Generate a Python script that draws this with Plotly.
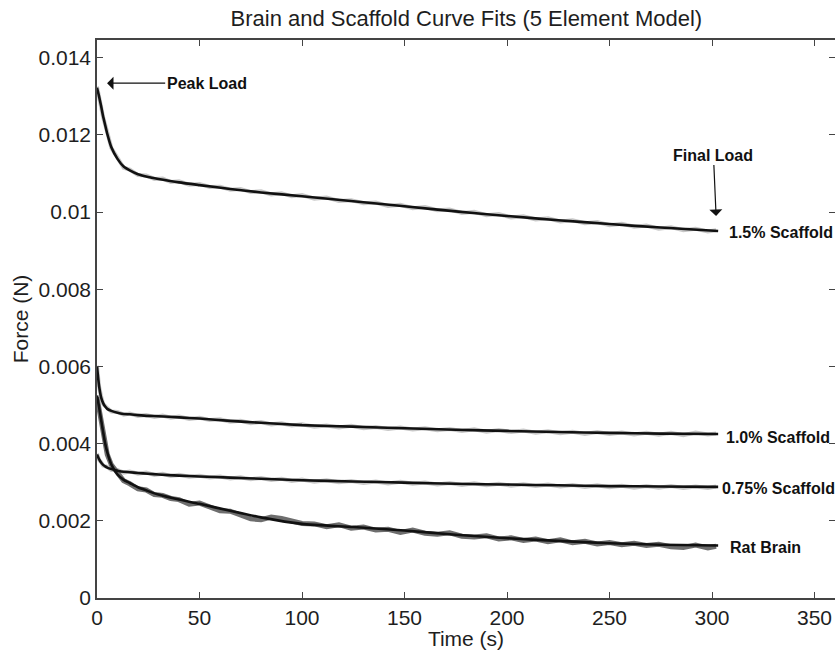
import plotly.graph_objects as go

# ---------------- data ----------------
t_fit = [0, 1, 2, 3, 4, 5, 7, 10, 13, 16, 20, 25, 30, 40, 50, 65, 80, 100,
         125, 150, 175, 200, 225, 250, 275, 303]

fit_15 = [0.01322, 0.01300, 0.01275, 0.01248, 0.01225, 0.01203, 0.01168, 0.01138,
          0.01118, 0.01108, 0.01098, 0.01091, 0.01086, 0.01077, 0.01070, 0.01060,
          0.01051, 0.01041, 0.01028, 0.01015, 0.01002, 0.00990, 0.00979, 0.00969,
          0.00960, 0.00951]
fit_10 = [0.00600, 0.00550, 0.00520, 0.00505, 0.00496, 0.00490, 0.00485, 0.00480,
          0.00477, 0.00476, 0.00474, 0.00472, 0.00471, 0.00468, 0.00465, 0.00459,
          0.00454, 0.00448, 0.00444, 0.00440, 0.00436, 0.00433, 0.00430, 0.00428,
          0.00426, 0.00425]
fit_075 = [0.00372, 0.00360, 0.00351, 0.00345, 0.00341, 0.00338, 0.00334, 0.00330,
           0.00327, 0.00326, 0.00324, 0.00322, 0.00320, 0.00317, 0.00315, 0.00312,
           0.00309, 0.00305, 0.00302, 0.00299, 0.00296, 0.00294, 0.00292, 0.00290,
           0.00289, 0.00288]
fit_brain = [0.00525, 0.00495, 0.00462, 0.00430, 0.00400, 0.00378, 0.00346, 0.00320,
             0.00306, 0.00298, 0.00287, 0.00277, 0.00268, 0.00255, 0.00244, 0.00226,
             0.00209, 0.00192, 0.00184, 0.00175, 0.00164, 0.00155, 0.00148, 0.00142,
             0.00138, 0.00136]

t_data = [0, 1, 2, 3, 5, 7, 10, 13, 16, 20, 24, 28, 32, 36, 40, 45, 50, 55, 60, 65,
          70, 75, 80, 85, 90, 95, 100, 106, 112, 118, 124, 130, 136, 142, 148, 154,
          160, 166, 172, 178, 184, 190, 196, 202, 208, 214, 220, 226, 232, 238, 244,
          250, 256, 262, 268, 274, 280, 286, 292, 298, 302]

data_15 = [0.01325, 0.01298, 0.01279, 0.01246, 0.01207, 0.01166, 0.01141, 0.01115,
           0.01110, 0.01096, 0.01095, 0.01086, 0.01087, 0.01078, 0.01080, 0.01071,
           0.01073, 0.01065, 0.01066, 0.01058, 0.01060, 0.01052, 0.01054, 0.01046,
           0.01049, 0.01041, 0.01044, 0.01035, 0.01038, 0.01029, 0.01031, 0.01023,
           0.01025, 0.01016, 0.01019, 0.01010, 0.01013, 0.01005, 0.01007, 0.00998,
           0.01001, 0.00992, 0.00995, 0.00986, 0.00989, 0.00981, 0.00984, 0.00976,
           0.00979, 0.00971, 0.00974, 0.00966, 0.00970, 0.00962, 0.00965, 0.00957,
           0.00961, 0.00953, 0.00957, 0.00950, 0.00953]
data_10 = [0.00602, 0.00548, 0.00523, 0.00503, 0.00492, 0.00483, 0.00482, 0.00475,
           0.00478, 0.00472, 0.00474, 0.00469, 0.00473, 0.00467, 0.00470, 0.00464,
           0.00467, 0.00461, 0.00463, 0.00457, 0.00459, 0.00453, 0.00456, 0.00450,
           0.00453, 0.00447, 0.00450, 0.00444, 0.00447, 0.00442, 0.00446, 0.00440,
           0.00443, 0.00438, 0.00442, 0.00437, 0.00440, 0.00435, 0.00438, 0.00433,
           0.00437, 0.00431, 0.00435, 0.00430, 0.00434, 0.00428, 0.00432, 0.00427,
           0.00431, 0.00425, 0.00430, 0.00425, 0.00429, 0.00424, 0.00428, 0.00423,
           0.00428, 0.00422, 0.00429, 0.00424, 0.00426]
data_075 = [0.00374, 0.00358, 0.00352, 0.00343, 0.00340, 0.00332, 0.00332, 0.00325,
            0.00328, 0.00322, 0.00325, 0.00319, 0.00322, 0.00316, 0.00319, 0.00314,
            0.00317, 0.00312, 0.00315, 0.00310, 0.00313, 0.00308, 0.00311, 0.00306,
            0.00309, 0.00303, 0.00307, 0.00301, 0.00305, 0.00300, 0.00303, 0.00298,
            0.00302, 0.00297, 0.00301, 0.00296, 0.00299, 0.00294, 0.00298, 0.00293,
            0.00297, 0.00292, 0.00296, 0.00291, 0.00295, 0.00290, 0.00294, 0.00289,
            0.00293, 0.00288, 0.00292, 0.00287, 0.00291, 0.00286, 0.00290, 0.00286,
            0.00290, 0.00285, 0.00289, 0.00285, 0.00289]
data_brain = [0.00520, 0.00492, 0.00458, 0.00428, 0.00372, 0.00345, 0.00322, 0.00304,
              0.00296, 0.00283, 0.00280, 0.00268, 0.00266, 0.00258, 0.00255, 0.00243,
              0.00246, 0.00236, 0.00226, 0.00225, 0.00214, 0.00205, 0.00203, 0.00210,
              0.00206, 0.00198, 0.00193, 0.00192, 0.00185, 0.00190, 0.00181, 0.00184,
              0.00176, 0.00178, 0.00170, 0.00176, 0.00168, 0.00165, 0.00169, 0.00160,
              0.00158, 0.00161, 0.00153, 0.00156, 0.00149, 0.00153, 0.00146, 0.00151,
              0.00143, 0.00147, 0.00140, 0.00144, 0.00138, 0.00142, 0.00136, 0.00139,
              0.00133, 0.00131, 0.00137, 0.00130, 0.00134]

x_ticks = [0, 50, 100, 150, 200, 250, 300, 350]
y_ticks = [0, 0.002, 0.004, 0.006, 0.008, 0.010, 0.012, 0.014]
y_tick_text = ["0", "0.002", "0.004", "0.006", "0.008", "0.01", "0.012", "0.014"]

series_labels = ["1.5% Scaffold", "1.0% Scaffold", "0.75% Scaffold", "Rat Brain"]
label_pos = [(307.5, 0.00948), (306, 0.00417), (304, 0.00285), (308, 0.00132)]

FONT = "Liberation Sans, Arial, Helvetica, sans-serif"
Y_RANGE = [0, 0.01446]

fig = go.Figure()

# raw data (gray)
for d, col, w in [(data_15, "#c8c8c8", 4), (data_10, "#c8c8c8", 4),
                  (data_075, "#c8c8c8", 4), (data_brain, "#6e6e6e", 5)]:
    fig.add_trace(go.Scatter(x=t_data, y=d, mode="lines",
                             line=dict(color=col, width=w), showlegend=False,
                             hoverinfo="skip"))

# fits (black)
for f in [fit_15, fit_10, fit_075, fit_brain]:
    fig.add_trace(go.Scatter(x=t_fit, y=f, mode="lines",
                             line=dict(color="#111111", width=2.6, shape="spline",
                                       smoothing=0.6),
                             showlegend=False))

# invisible trace on a right-hand y axis (carries the inward ticks on the right)
fig.add_trace(go.Scatter(x=[0], y=[0], yaxis="y2", mode="markers",
                         marker=dict(opacity=0), showlegend=False, hoverinfo="skip"))

annotations = []
for lab, (lx, ly) in zip(series_labels, label_pos):
    annotations.append(dict(x=lx, y=ly, xref="x", yref="y", text="<b>%s</b>" % lab,
                            showarrow=False, xanchor="left", yanchor="middle",
                            font=dict(family=FONT, size=16, color="#111111")))

annotations.append(dict(x=4.9, y=0.01334, xref="x", yref="y",
                        ax=53.5, ay=0.01334, axref="x", ayref="y",
                        text="<b>Peak Load</b>", showarrow=True, arrowhead=1,
                        arrowsize=1.8, arrowwidth=1.2, arrowcolor="#111111",
                        font=dict(family=FONT, size=16, color="#111111")))
annotations.append(dict(x=302, y=0.00990, xref="x", yref="y",
                        ax=300.7, ay=0.01148, axref="x", ayref="y",
                        text="<b>Final Load</b>", showarrow=True, arrowhead=1,
                        arrowsize=1.8, arrowwidth=1.2, arrowcolor="#111111",
                        font=dict(family=FONT, size=16, color="#111111")))

fig.update_layout(
    width=835, height=650,
    margin=dict(l=97, r=0, t=40, b=52),
    paper_bgcolor="white", plot_bgcolor="white",
    title=dict(text="Brain and Scaffold Curve Fits (5 Element Model)",
               x=0.5585, xanchor="center", y=0.972, yanchor="middle",
               font=dict(family=FONT, size=22, color="#1e1e1e")),
    font=dict(family=FONT, size=21, color="#1e1e1e"),
    annotations=annotations,
    yaxis2=dict(overlaying="y", side="right", range=Y_RANGE, tickvals=y_ticks,
                ticks="inside", ticklen=6, tickcolor="#444444", showticklabels=False,
                showline=False, showgrid=False, zeroline=False),
)

fig.update_xaxes(range=[0, 360], tickvals=x_ticks, ticks="inside", ticklen=6,
                 tickcolor="#444444", showline=True, linecolor="#444444", linewidth=1.5,
                 mirror="ticks", showgrid=False, zeroline=False,
                 tickfont=dict(family=FONT, size=21, color="#1e1e1e"),
                 title=dict(text="Time (s)", standoff=2,
                            font=dict(family=FONT, size=21, color="#1e1e1e")))
fig.layout.yaxis.update(range=Y_RANGE, tickvals=y_ticks, ticktext=y_tick_text,
                        ticks="inside", ticklen=6, tickcolor="#444444", showline=True,
                        linecolor="#444444", linewidth=1.5, mirror=False, showgrid=False,
                        zeroline=False,
                        tickfont=dict(family=FONT, size=21, color="#1e1e1e"),
                        title=dict(text="Force (N)", standoff=4,
                                   font=dict(family=FONT, size=21, color="#1e1e1e")))

fig.write_html("out.html")
